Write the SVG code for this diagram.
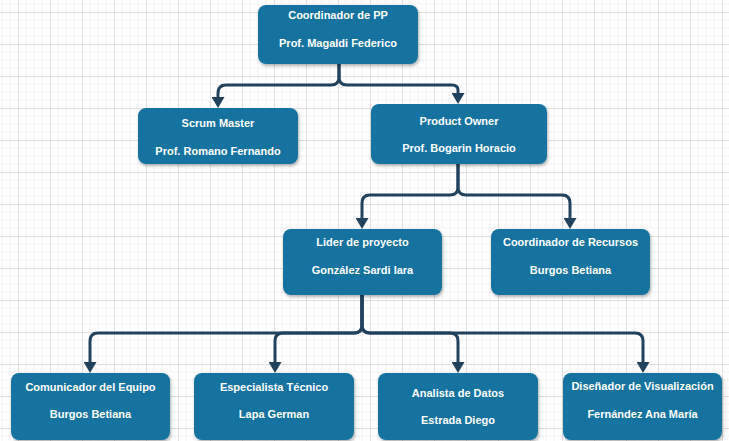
<svg xmlns="http://www.w3.org/2000/svg" width="729" height="441" viewBox="0 0 729 441">
<defs>
<pattern id="grid" patternUnits="userSpaceOnUse" x="18" y="12" width="32" height="32">
<path d="M8,0V32M16,0V32M24,0V32M0,8H32M0,16H32M0,24H32" stroke="#f3f3f3" stroke-width="1" fill="none"/>
<path d="M0.5,0V32M0,0.5H32" stroke="#e0e0e0" stroke-width="1" fill="none"/>
</pattern>
<filter id="sh" x="-10%" y="-10%" width="125%" height="130%">
<feDropShadow dx="1" dy="2" stdDeviation="1.5" flood-color="#000" flood-opacity="0.3"/>
</filter>
<marker id="arr" markerUnits="userSpaceOnUse" markerWidth="13" markerHeight="13" refX="0" refY="6.5" orient="auto">
<path d="M0,0 L11,6.5 L0,13 z" fill="#22435e"/>
</marker>
<style>
.box{fill:#15729e;filter:url(#sh)}
.t{font-family:"Liberation Sans",Arial,sans-serif;font-weight:bold;font-size:11px;fill:#ffffff;text-anchor:middle}
.c{fill:none;stroke:#22435e;stroke-width:3;marker-end:url(#arr)}
</style>
</defs>
<rect width="729" height="441" fill="#ffffff"/>
<rect width="729" height="441" fill="url(#grid)"/>
<g id="connectors">
<path class="c" d="M339,64 V77 Q339,85 331,85 H226 Q218,85 218,93 V97"/>
<path class="c" d="M339,64 V77 Q339,85 347,85 H452 Q458,85 458,90 V93"/>
<path class="c" d="M458,164 V187 Q458,195 450,195 H370 Q362,195 362,203 V218"/>
<path class="c" d="M458,164 V187 Q458,195 466,195 H562 Q570,195 570,203 V218"/>
<path class="c" d="M362,295 V325 Q362,333 354,333 H98 Q90,333 90,341 V362"/>
<path class="c" d="M362,295 V325 Q362,333 354,333 H283 Q275,333 275,341 V362"/>
<path class="c" d="M362,295 V325 Q362,333 370,333 H450 Q458,333 458,341 V362"/>
<path class="c" d="M362,295 V325 Q362,333 370,333 H635 Q643,333 643,341 V362"/>
</g>
<g id="coordinador-pp">
<rect class="box" x="258" y="5" width="160" height="59" rx="8"/>
<text class="t" x="338" y="19">Coordinador de PP</text>
<text class="t" x="338" y="47">Prof. Magaldi Federico</text>
</g>
<g id="scrum-master">
<rect class="box" x="138" y="108" width="160" height="56" rx="8"/>
<text class="t" x="218" y="127">Scrum Master</text>
<text class="t" x="218" y="155">Prof. Romano Fernando</text>
</g>
<g id="product-owner">
<rect class="box" x="371" y="104" width="176" height="60" rx="8"/>
<text class="t" x="459" y="125">Product Owner</text>
<text class="t" x="459" y="152">Prof. Bogarin Horacio</text>
</g>
<g id="lider-proyecto">
<rect class="box" x="283" y="229" width="159" height="66" rx="8"/>
<text class="t" x="362.5" y="246">Lider de proyecto</text>
<text class="t" x="362.5" y="274">González Sardi Iara</text>
</g>
<g id="coordinador-recursos">
<rect class="box" x="491" y="229" width="159" height="66" rx="8"/>
<text class="t" x="570.5" y="246">Coordinador de Recursos</text>
<text class="t" x="570.5" y="274">Burgos Betiana</text>
</g>
<g id="comunicador">
<rect class="box" x="11" y="373" width="159" height="67" rx="8"/>
<text class="t" x="90.5" y="391">Comunicador del Equipo</text>
<text class="t" x="90.5" y="418">Burgos Betiana</text>
</g>
<g id="especialista">
<rect class="box" x="194" y="373" width="160" height="67" rx="8"/>
<text class="t" x="274" y="391">Especialista Técnico</text>
<text class="t" x="274" y="418">Lapa German</text>
</g>
<g id="analista">
<rect class="box" x="378" y="373" width="160" height="67" rx="8"/>
<text class="t" x="458" y="397">Analista de Datos</text>
<text class="t" x="458" y="424">Estrada Diego</text>
</g>
<g id="disenador">
<rect class="box" x="563" y="373" width="159" height="67" rx="8"/>
<text class="t" x="642.5" y="390">Diseñador de Visualización</text>
<text class="t" x="642.5" y="418">Fernández Ana María</text>
</g>
</svg>
